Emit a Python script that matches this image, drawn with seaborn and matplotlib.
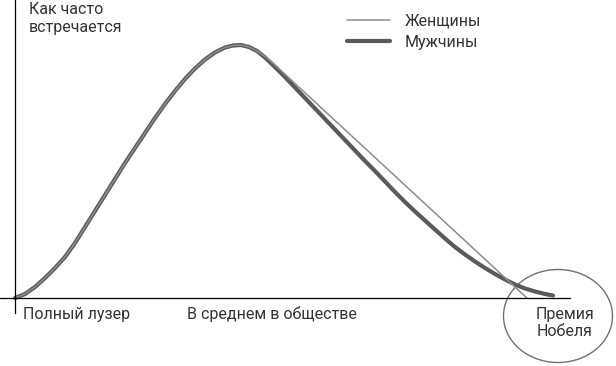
import matplotlib
matplotlib.use("Agg")
import matplotlib.pyplot as plt
from matplotlib.patches import Ellipse
import pandas as pd
import seaborn as sns

# Общая восходящая часть кривой (одинакова для обоих полов)
x_rise = [0, 10, 20, 30, 40, 50, 60, 70, 80, 90, 100, 110, 120, 130, 140,
          150, 160, 170, 180, 190, 200, 210, 218, 226, 234, 242]
y_rise = [0, 4, 11, 20, 30, 41, 55, 71, 87, 103, 119, 135, 150, 165, 180,
          194, 207, 219, 229.5, 238.5, 245.5, 250.5, 252.5, 253, 251, 247]

# Мужчины - нисходящая часть
x_men = [250, 260, 270, 280, 290, 300, 310, 320, 330, 340, 350, 360, 370,
         380, 390, 400, 410, 420, 430, 440, 450, 460, 470, 480, 490, 500,
         510, 520, 530, 538]
y_men = [240.5, 231, 221, 210.5, 200, 189.5, 179, 168.5, 158, 147.5,
         137, 127, 116.5, 106, 96, 86.5, 77.5, 68.5, 59.5, 51, 43.5, 36.5,
         30, 24, 18.5, 13.5, 9.5, 6.5, 4, 2.5]

# Женщины - нисходящая часть
x_women = [250, 258, 266, 280, 300, 320, 340, 360, 380, 400, 420, 440, 460,
           480, 500, 512]
y_women = [241.5, 235, 227.5, 214.5, 196, 177.5, 159, 140.5, 122, 103.5, 85,
           66.5, 48, 29.5, 11, 0]

df_men = pd.DataFrame({"x": x_rise + x_men, "y": y_rise + y_men})
df_women = pd.DataFrame({"x": x_rise + x_women, "y": y_rise + y_women})

sns.set_style("white")
plt.rcParams["font.family"] = ["Roboto", "DejaVu Sans"]

fig = plt.figure(figsize=(6.16, 3.66), dpi=100)
ax = fig.add_axes([0, 0, 1, 1])

# Мужчины - толстая линия, женщины - тонкая поверх
sns.lineplot(data=df_men, x="x", y="y", color="#5a5a5a", linewidth=3.0,
             sort=False, estimator=None, ax=ax, label="Мужчины")
sns.lineplot(data=df_women, x="x", y="y", color="#8c8c8c", linewidth=1.1,
             sort=False, estimator=None, ax=ax, label="Женщины")

ax.set_xlim(-15, 601)
ax.set_ylim(-68, 298)
ax.axis("off")

# Оси
ax.axhline(0, xmin=0, xmax=570 / 616, color="black", lw=0.9)
ax.axvline(0, ymin=(366 - 313) / 366, ymax=1, color="black", lw=0.9)

# Кружок вокруг Нобелевки
ax.add_patch(Ellipse((543, -18), 109, 93, fill=False, edgecolor="#707070", lw=1.0))

txt = dict(color="#333333", fontsize=11.5)
ax.text(14, 296, "Как часто\nвстречается", ha="left", va="top", linespacing=1.25, **txt)
ax.text(8, -17, "Полный лузер", ha="left", va="center", **txt)
ax.text(172, -16, "В среднем в обществе", ha="left", va="center", **txt)
ax.text(550, -25, "Премия\nНобеля", ha="center", va="center", linespacing=1.2, **txt)

handles, labels = ax.get_legend_handles_labels()
leg = ax.legend(handles[::-1], labels[::-1], loc="upper left",
                bbox_to_anchor=(347 / 616, 1 - 14 / 366), frameon=False,
                borderpad=0, borderaxespad=0, handlelength=2.7,
                handletextpad=0.9, labelspacing=0.35,
                prop={"size": 11.5})
for t in leg.get_texts():
    t.set_color("#333333")

fig.savefig("out.png", dpi=100)
